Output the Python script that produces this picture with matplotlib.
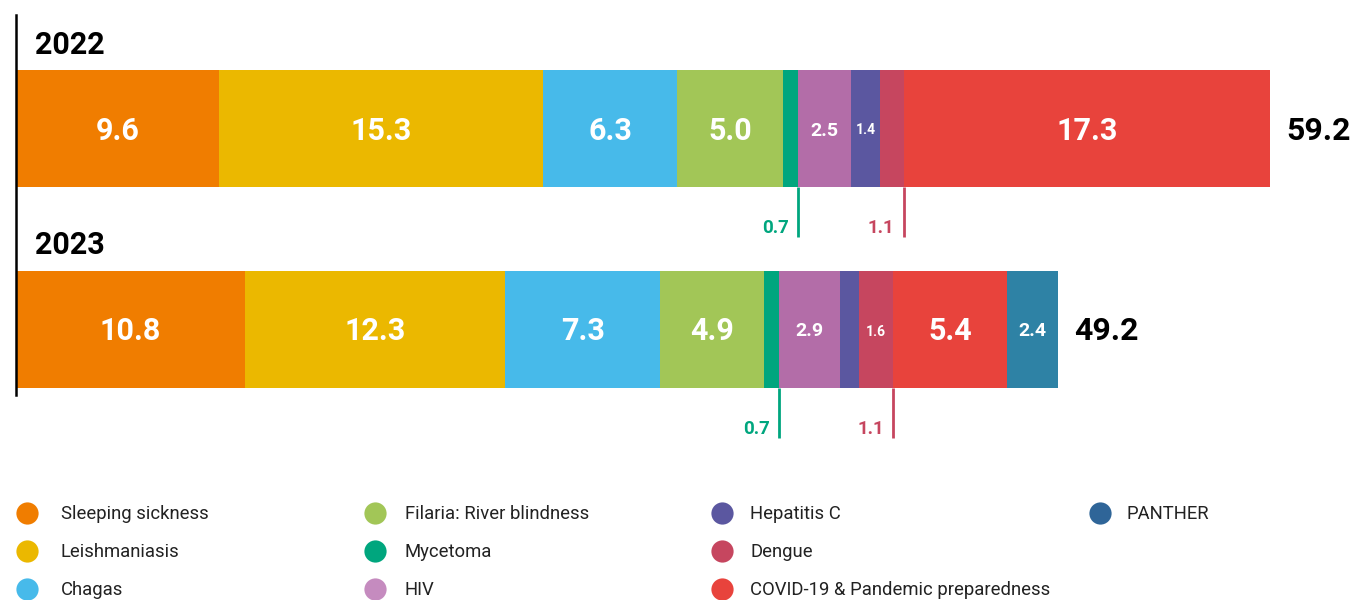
import matplotlib
matplotlib.use("Agg")
import matplotlib.pyplot as plt

plt.rcParams['font.family'] = ['Roboto', 'DejaVu Sans']

categories = ["Sleeping sickness", "Leishmaniasis", "Chagas", "Filaria: River blindness",
              "Mycetoma", "HIV", "Hepatitis C", "Dengue",
              "COVID-19 & Pandemic preparedness", "PANTHER"]
colors = ["#F07D00", "#EBB800", "#47BAEA", "#A2C657", "#00A67E",
          "#B36DA8", "#5B57A0", "#C6465F", "#E8433C", "#2E82A5"]
legend_colors = colors[:5] + ["#C58BBF"] + colors[6:9] + ["#2F6598"]

years = ["2022", "2023"]
values_2022 = [9.6, 15.3, 6.3, 5.0, 0.7, 2.5, 1.4, 1.1, 17.3, 0.0]
values_2023 = [10.8, 12.3, 7.3, 4.9, 0.7, 2.9, 0.9, 1.6, 5.4, 2.4]
labels_2022 = ["9.6", "15.3", "6.3", "5.0", "", "2.5", "1.4", "", "17.3", ""]
labels_2023 = ["10.8", "12.3", "7.3", "4.9", "", "2.9", "", "1.6", "5.4", "2.4"]
totals = ["59.2", "49.2"]
callouts = [("0.7", "1.1"), ("0.7", "1.1")]

big = {"9.6", "15.3", "6.3", "5.0", "17.3", "10.8", "12.3", "7.3", "4.9", "5.4"}

scale = (1270 - 16) / 59.2  # px per unit
fig = plt.figure(figsize=(13.55, 6), dpi=100)
ax = fig.add_axes([0, 0, 1, 1])
ax.set_xlim(-16 / scale, (1355 - 16) / scale)
ax.set_ylim(600, 0)
ax.axis("off")

bar_y = [128.5, 329.5]
bar_h = 117

for i, (vals, labs) in enumerate([(values_2022, labels_2022), (values_2023, labels_2023)]):
    y = bar_y[i]
    left = 0
    for v, lab, c in zip(vals, labs, colors):
        if v > 0:
            ax.barh(y, v, left=left, height=bar_h, color=c, linewidth=0)
        if lab:
            size = 22 if lab in big else (14 if v >= 2 else 10)
            ax.text(left + v / 2, y + 2, lab, color="white", fontsize=size,
                    fontweight="bold", ha="center", va="center")
        left += v
    ax.text(left + 16 / scale, y + 2, totals[i], fontsize=23, fontweight="bold",
            ha="left", va="center", color="black")
    ax.text(19 / scale, y - 84, years[i], fontsize=22, fontweight="bold",
            ha="left", va="center", color="black")

    # callouts for mycetoma and dengue
    myc_end = sum(vals[:5])
    den_end = sum(vals[:8])
    top = y + bar_h / 2
    for xe, txt, c in [(myc_end, callouts[i][0], colors[4]), (den_end, callouts[i][1], colors[7])]:
        ax.plot([xe, xe], [top, top + 50], color=c, lw=2, solid_capstyle="butt")
        ax.text(xe - 9 / scale, top + 41, txt, color=c, fontsize=13.5, fontweight="bold",
                ha="right", va="center")

ax.plot([0, 0], [15, 395], color="black", lw=1.8)

# legend
col_x = [27, 375, 722, 1100]
text_x = [61, 405, 750, 1127]
row_y = [513, 551, 589]
for k, (name, c) in enumerate(zip(categories, legend_colors)):
    col, row = divmod(k, 3)
    cx = (col_x[col] - 16) / scale
    ax.plot(cx, row_y[row], "o", ms=16, color=c, mec="none", clip_on=False)
    ax.text((text_x[col] - 16) / scale, row_y[row] + 1, name, fontsize=13.3,
            color="#222222", ha="left", va="center")

fig.savefig("out.png", dpi=100)
